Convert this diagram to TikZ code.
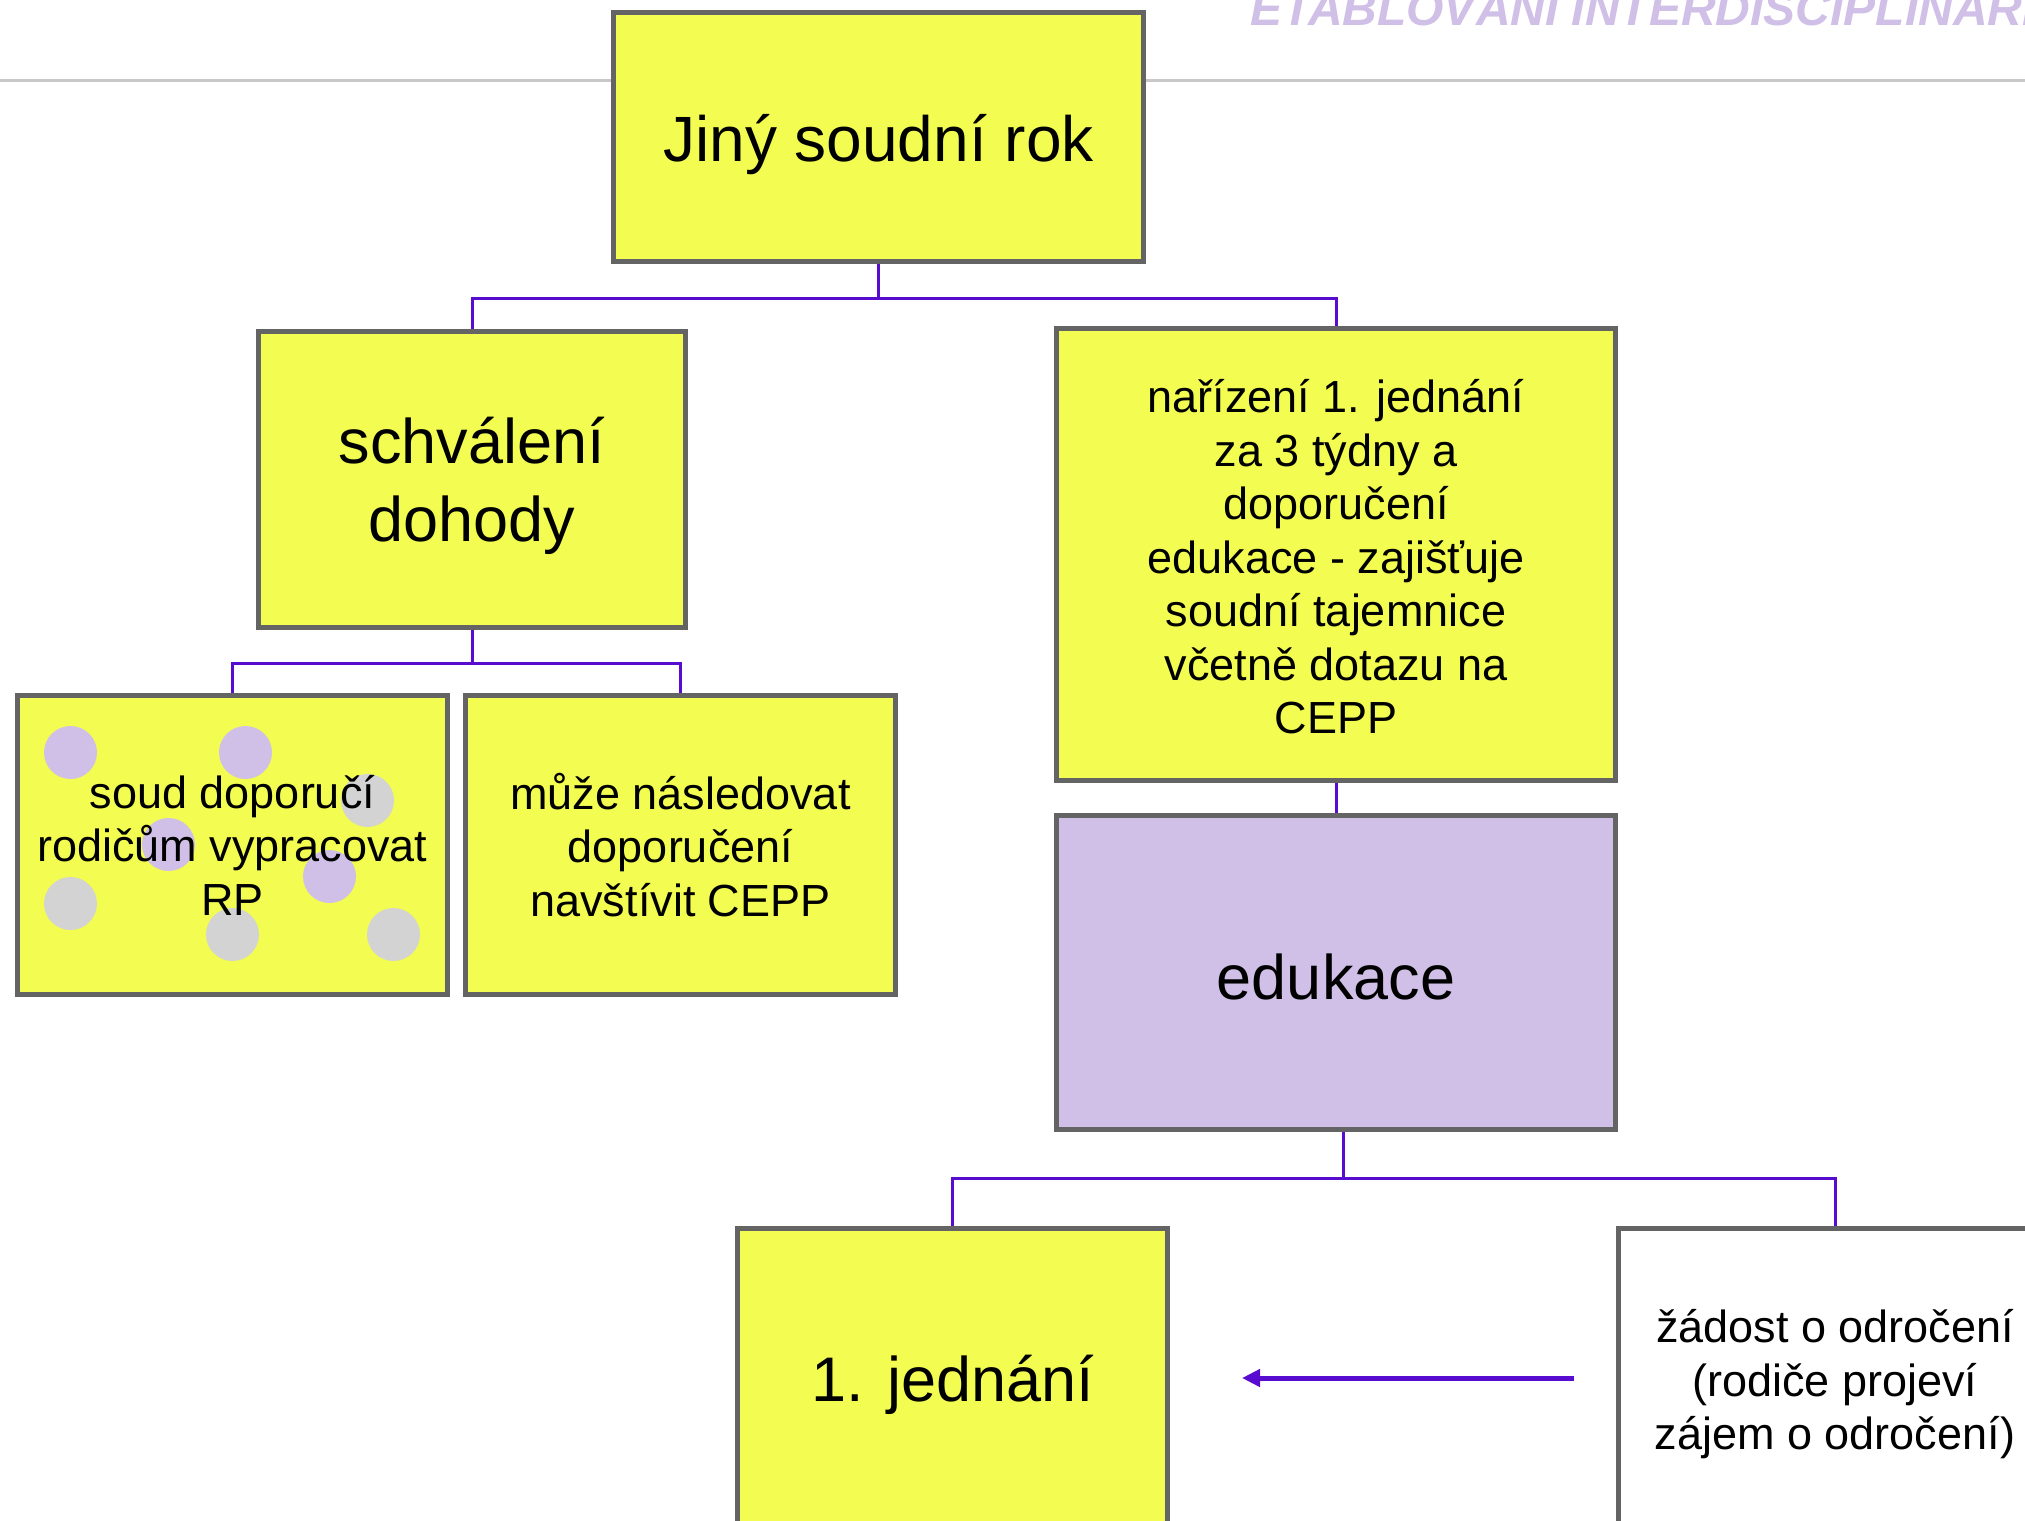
\documentclass[tikz,border=0pt]{standalone}
\usepackage{fontspec}
\setmainfont{Liberation Sans}
\usetikzlibrary{arrows.meta}
\definecolor{boxyellow}{RGB}{243,252,80}
\definecolor{lav}{RGB}{208,191,230}
\definecolor{dotgray}{RGB}{211,211,211}
\definecolor{boxborder}{RGB}{100,100,100}
\definecolor{connpurple}{RGB}{88,12,208}
\definecolor{hdrgray}{RGB}{200,200,200}
\begin{document}
\begin{tikzpicture}[x=1pt,y=-1pt,
  box/.style={draw=boxborder, line width=4.8pt, fill=boxyellow, inner sep=0pt},
  txt/.style={inner sep=0pt, align=center, text=black},
  bigtxt/.style={txt, font=\fontsize{63}{78}\selectfont},
  smalltxt/.style={txt, font=\fontsize{45}{53.5}\selectfont},
  conn/.style={draw=connpurple, line width=3pt},
  arr/.style={draw=connpurple, line width=5pt, -{Triangle[length=18pt,width=17pt]}},
  dotp/.style={fill=lav, draw=none},
  dotg/.style={fill=dotgray, draw=none}]
\clip (0,0) rectangle (2025,1520);
\fill[white] (0,0) rectangle (2025,1520);
% header
\coordinate (hl) at (0,80);
\coordinate (hr) at (2025,80);
\draw[hdrgray, line width=3pt] (hl) -- (hr);
\node[anchor=base west, inner sep=0pt, text=lav, font=\fontsize{48}{58}\selectfont\bfseries\itshape] (title) at (1250,26) {ETABLOVÁNÍ INTERDISCIPLINÁRNÍ};
% boxes
\node[box, minimum width=530pt, minimum height=249pt] (top) at (878.5,137) {};
\node[box, minimum width=427pt, minimum height=296pt] (schval) at (472,479.5) {};
\node[box, minimum width=559pt, minimum height=452pt] (narizeni) at (1336,554.5) {};
\node[box, minimum width=430pt, minimum height=299pt,
  path picture={
    \fill[dotp] ([shift={(53,57)}]path picture bounding box.north west) circle (26.5);
    \fill[dotp] ([shift={(228,57)}]path picture bounding box.north west) circle (26.5);
    \fill[dotp] ([shift={(151,149)}]path picture bounding box.north west) circle (26.5);
    \fill[dotp] ([shift={(312,181)}]path picture bounding box.north west) circle (26.5);
    \fill[dotg] ([shift={(350,105)}]path picture bounding box.north west) circle (26.5);
    \fill[dotg] ([shift={(53,208)}]path picture bounding box.north west) circle (26.5);
    \fill[dotg] ([shift={(215,239)}]path picture bounding box.north west) circle (26.5);
    \fill[dotg] ([shift={(376,239)}]path picture bounding box.north west) circle (26.5);
  }] (soud) at (232.5,845) {};
\node[box, minimum width=430pt, minimum height=299pt] (muze) at (680.5,845) {};
\node[box, fill=lav, minimum width=559pt, minimum height=314pt] (edukace) at (1336,972.5) {};
\node[box, minimum width=430pt, minimum height=303pt] (jednani) at (952.5,1380) {};
\node[box, fill=white, minimum width=433pt, minimum height=303pt] (zadost) at (1835,1380) {};
% texts
\node[txt, font=\fontsize{64}{77}\selectfont] (topT) at ([yshift=-8pt]top.center) {Jiný soudní rok};
\node[bigtxt] (schvalT) at ([yshift=-6.5pt]schval.center) {schválení\\dohody};
\node[smalltxt] (narizeniT) at ([yshift=-2.6pt]narizeni.center) {nařízení 1. jednání\\za 3 týdny a\\doporučení\\edukace - zajišťuje\\soudní tajemnice\\včetně dotazu na\\CEPP};
\node[smalltxt] (soudT) at (soud.center) {soud doporučí\\rodičům vypracovat\\RP};
\node[smalltxt] (muzeT) at (muze.center) {může následovat\\doporučení\\navštívit CEPP};
\node[bigtxt] (edukaceT) at ([yshift=-4pt]edukace.center) {edukace};
\node[bigtxt] (jednaniT) at ([yshift=-5pt]jednani.center) {1. jednání};
\node[smalltxt] (zadostT) at ([yshift=-4.5pt]zadost.center) {žádost o odročení\\(rodiče projeví\\zájem o odročení)};
% connectors
\coordinate (bus1) at (0,298);
\coordinate (bus2) at (0,663);
\coordinate (bus3) at (0,1178);
\draw[conn] (top.south) -- (top.south |- bus1);
\draw[conn] (schval.north) |- (narizeni.north |- bus1) -- (narizeni.north);
\draw[conn] (schval.south) -- (schval.south |- bus2);
\draw[conn] (soud.north) |- (muze.north |- bus2) -- (muze.north);
\draw[conn] (narizeni.south) -- (edukace.north);
\coordinate (ej) at ([xshift=7pt]edukace.south);
\draw[conn] (ej) -- (ej |- bus3);
\draw[conn] (jednani.north) |- (zadost.north |- bus3) -- (zadost.north);
% arrow
\coordinate (a1) at (1574,1378);
\coordinate (a2) at (1242,1378);
\draw[arr] (a1) -- (a2);
\end{tikzpicture}
\end{document}
